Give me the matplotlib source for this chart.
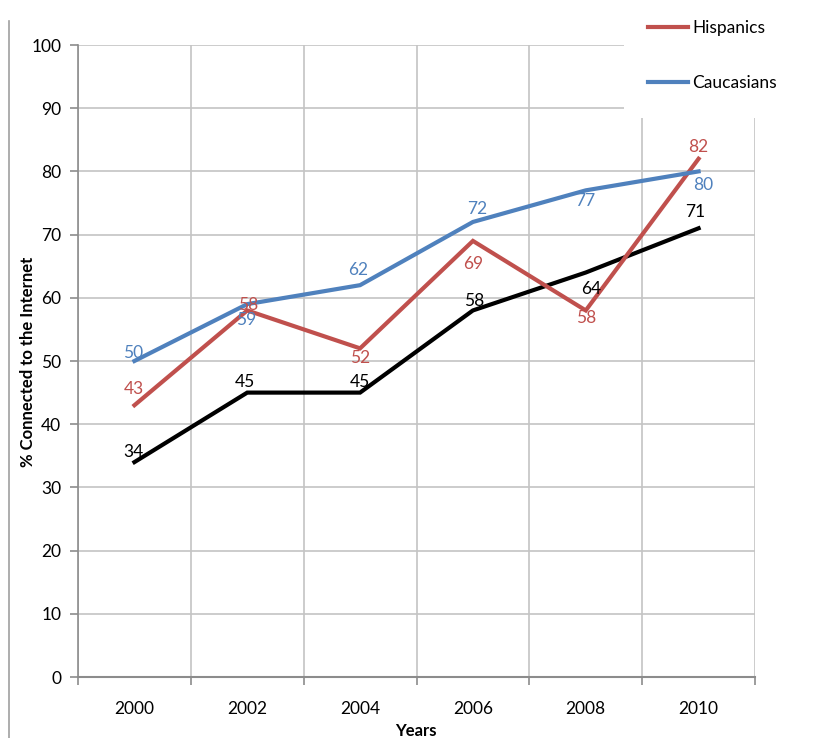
import matplotlib
matplotlib.use("Agg")
import matplotlib.pyplot as plt
from matplotlib.lines import Line2D
from matplotlib.patches import Rectangle

plt.rcParams['font.family'] = ['Lato', 'DejaVu Sans']

years = ["2000", "2002", "2004", "2006", "2008", "2010"]
african_americans = [34, 45, 45, 58, 64, 71]
hispanics = [43, 58, 52, 69, 58, 82]
caucasians = [50, 59, 62, 72, 77, 80]
y_ticks = [0, 10, 20, 30, 40, 50, 60, 70, 80, 90, 100]

RED = "#C0504D"
BLUE = "#4F81BD"
BLACK = "#000000"
GRID = "#C4C4C4"
AXIS = "#8C8C8C"

W, H = 833, 738
fig = plt.figure(figsize=(W / 100, H / 100), dpi=100)
ax = fig.add_axes([78 / W, 1 - 677 / H, (755 - 78) / W, (677 - 45) / H])

x = [i + 0.5 for i in range(len(years))]
lw = 3.0
ax.plot(x, african_americans, color=BLACK, lw=lw, zorder=3, solid_joinstyle='miter')
ax.plot(x, hispanics, color=RED, lw=lw, zorder=4, solid_joinstyle='miter')
ax.plot(x, caucasians, color=BLUE, lw=lw, zorder=5, solid_joinstyle='miter')

# data labels: pixel offsets for each point
blue_off = [(-1, 8), (-1, -16), (-2, 15), (4, 13), (-1, -11), (5, -14)]
red_off = [(-1, 16), (1, 5), (0, -10), (0, -23), (0, -8), (0, 12)]
black_off = [(-1, 10), (-2, 11), (0, 11), (1, 9), (5, -16), (-3, 16)]

def label(vals, offs, color):
    for xi, v, (dx, dy) in zip(x, vals, offs):
        ax.annotate(str(v), (xi, v), xytext=(dx, dy), textcoords='offset pixels',
                    ha='center', va='center', color=color, fontsize=12.5, zorder=6)

label(caucasians, blue_off, BLUE)
label(hispanics, red_off, RED)
label(african_americans, black_off, BLACK)

ax.set_xlim(0, len(years))
ax.set_ylim(0, 100)
ax.set_xticks(range(len(years) + 1))
ax.set_xticklabels([])
ax.set_xticks(x, minor=True)
ax.set_xticklabels(years, minor=True)
ax.tick_params(axis='x', which='major', length=6, width=1.2, color=AXIS, direction='out')
ax.tick_params(axis='x', which='minor', length=0, pad=17, labelsize=12.5)
ax.set_yticks(y_ticks)
ax.tick_params(axis='y', length=6, width=1.2, color=AXIS, direction='out', pad=6, labelsize=12.5)

ax.grid(True, which='major', color=GRID, lw=1.2, zorder=0)
ax.set_axisbelow(True)
for s in ['top', 'right']:
    ax.spines[s].set_visible(False)
ax.spines['left'].set_color(AXIS)
ax.spines['bottom'].set_color(AXIS)
ax.spines['left'].set_linewidth(1.2)
ax.spines['bottom'].set_linewidth(1.5)

fig.text(28 / W, 1 - 362 / H, "% Connected to the Internet", rotation=90,
         ha='center', va='center', fontsize=12, fontweight='bold')
fig.text(416 / W, 1 - 731 / H, "Years", ha='center', va='center',
         fontsize=12, fontweight='bold')

# outer border on the left
fig.add_artist(Line2D([9 / W, 9 / W], [0, 1 - 21 / H], transform=fig.transFigure,
                      color="#A0A0A0", lw=1.2))

# white legend panel
fig.add_artist(Rectangle((624 / W, 1 - 118 / H), (W - 624) / W, 118 / H,
                         transform=fig.transFigure, facecolor='white',
                         edgecolor='none', zorder=4))

handles = [Line2D([], [], color=RED, lw=lw), Line2D([], [], color=BLUE, lw=lw)]
leg = fig.legend(handles, ["Hispanics", "Caucasians"], loc='upper left',
                 bbox_to_anchor=(648 / W, 1 - 20 / H), frameon=False,
                 fontsize=12.5, handlelength=2.3, handletextpad=0.25,
                 labelspacing=2.25, borderpad=0, borderaxespad=0)
leg.set_zorder(6)

fig.savefig("out.png", dpi=100)
